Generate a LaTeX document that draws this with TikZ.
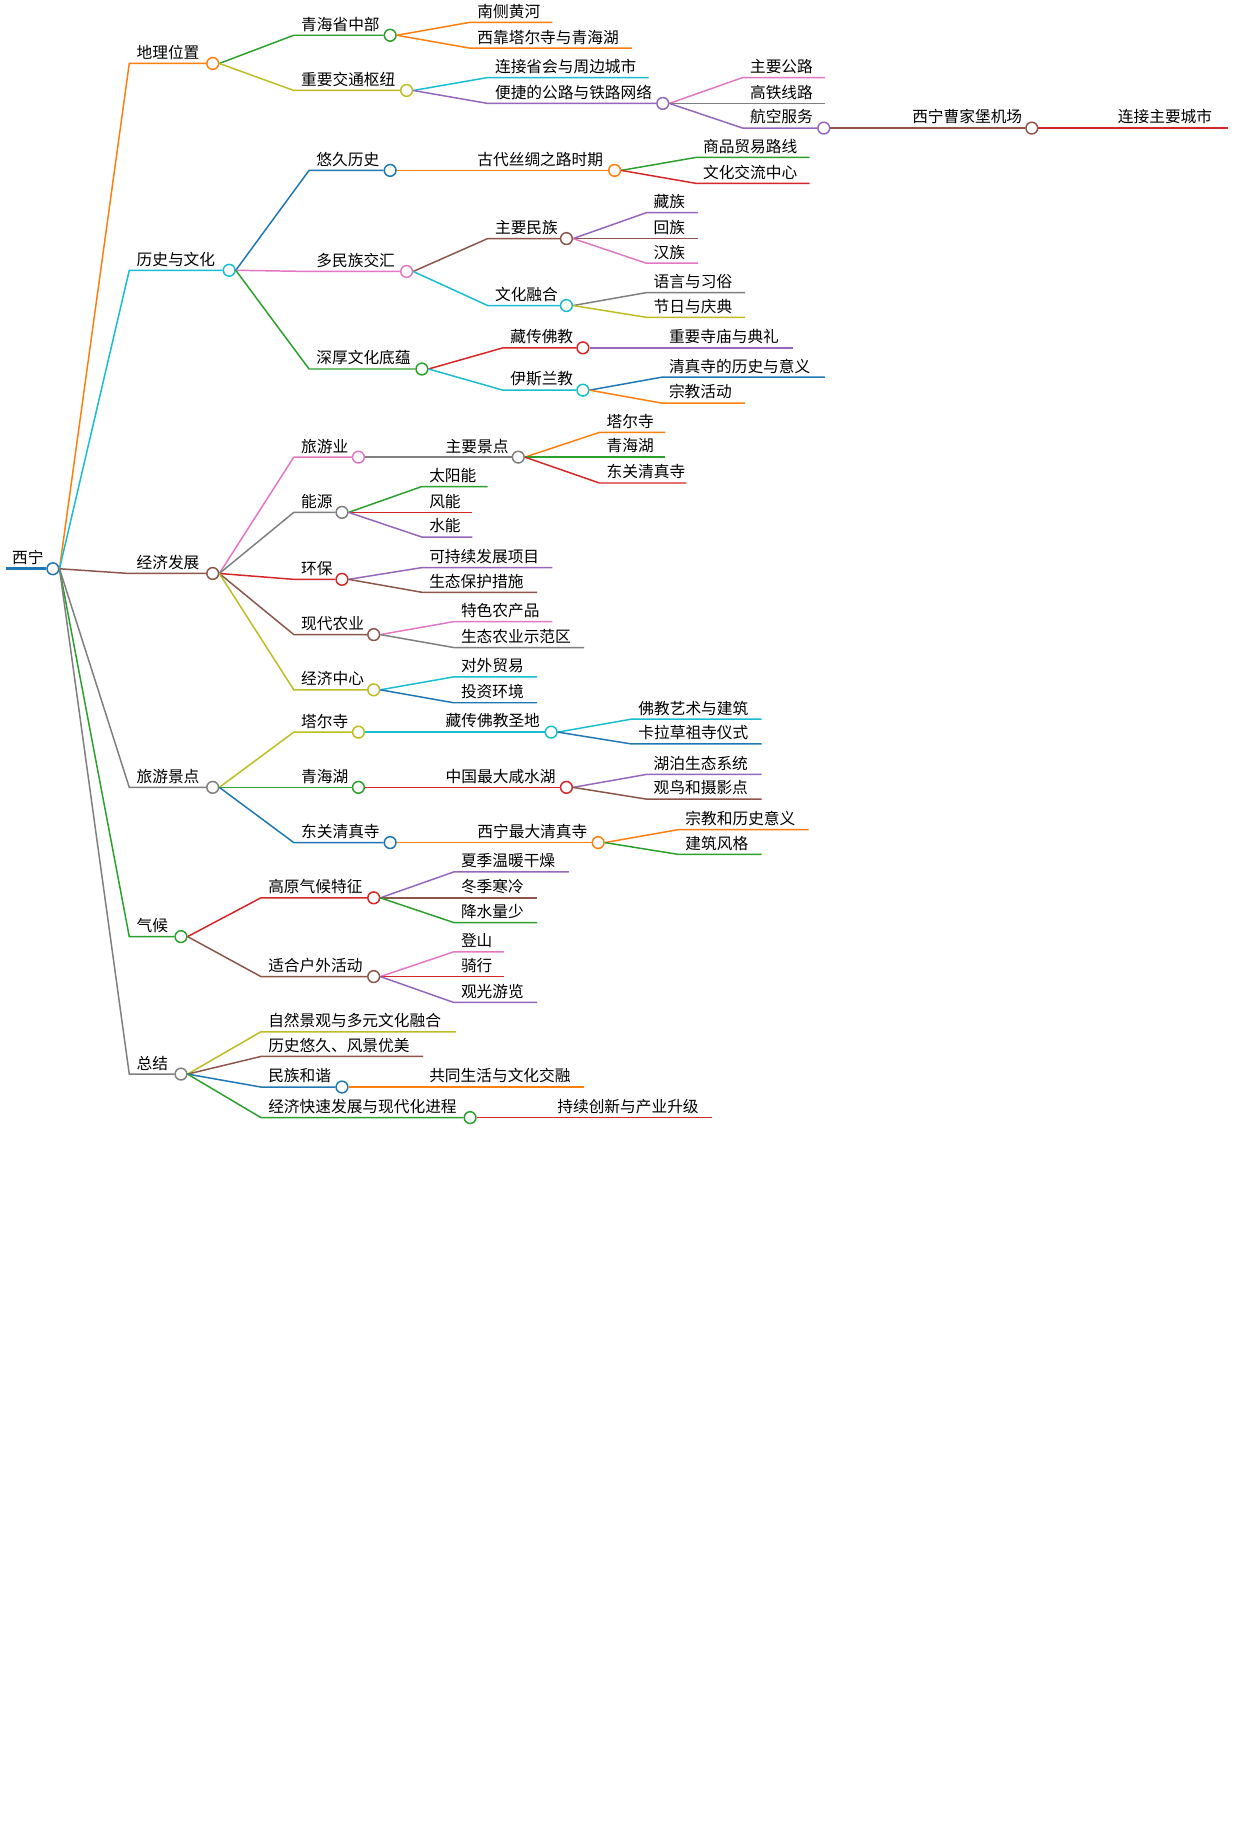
\documentclass[tikz,border=0pt]{standalone}
\usepackage{fontspec}
\setmainfont{Noto Sans CJK SC}
\usetikzlibrary{positioning}
\definecolor{cBlue}{HTML}{1F77B4}
\definecolor{cOrange}{HTML}{FF7F0E}
\definecolor{cGreen}{HTML}{2CA02C}
\definecolor{cRed}{HTML}{D62728}
\definecolor{cPurple}{HTML}{9467BD}
\definecolor{cBrown}{HTML}{8C564B}
\definecolor{cPink}{HTML}{E377C2}
\definecolor{cGray}{HTML}{7F7F7F}
\definecolor{cOlive}{HTML}{BCBD22}
\definecolor{cCyan}{HTML}{17BECF}
\tikzset{
  knob/.style={circle,draw=#1,fill=white,line width=0.9pt,inner sep=0pt,minimum size=0.25cm},
  stem/.style={draw=#1,line width=0.9pt},
  label/.style={anchor=south west,inner sep=0pt,font=\fontsize{9.5}{11}\selectfont}
}
% branch: name, parent, colour, x start, x end, y, text
\newcommand{\mmbranch}[7]{%
  \coordinate (#1-s) at (#4,#6);
  \node[knob=#3] (#1) at (#5,#6) {};
  \draw[stem=#3] (#2.east) .. controls ($(#2.east)!0.5!(#1-s)$ |- #2.east) and ($(#2.east)!0.5!(#1-s)$ |- #1-s) .. (#1-s) -- (#1.west);
  \node[label] at (#4+6,#6-3) {#7};
}
\newcommand{\mmleaf}[7]{%
  \coordinate (#1-s) at (#4,#6);
  \coordinate (#1) at (#5,#6);
  \draw[stem=#3] (#2.east) .. controls ($(#2.east)!0.5!(#1-s)$ |- #2.east) and ($(#2.east)!0.5!(#1-s)$ |- #1-s) .. (#1-s) -- (#1);
  \node[label] at (#4+6,#6-3) {#7};
}
\usetikzlibrary{calc}
\begin{document}
\begin{tikzpicture}[x=0.025cm,y=-0.025cm]
  \useasboundingbox[fill=white] (0,0) rectangle (1050,1570);
  % root
  \node[knob=cBlue] (root) at (45,484) {};
  \draw[cBlue,line width=2pt] (5,484) -- (root.west);
  \node[label] at (10,481) {西宁};

  % geography
  \mmbranch{geo}{root}{cOrange}{110}{181}{54}{地理位置}
  \mmbranch{geoMid}{geo}{cGreen}{250}{332}{30}{青海省中部}
  \mmleaf{geoRiver}{geoMid}{cOrange}{400}{470}{19}{南侧黄河}
  \mmleaf{geoWest}{geoMid}{cOrange}{400}{538}{41}{西靠塔尔寺与青海湖}
  \mmbranch{hub}{geo}{cOlive}{250}{346}{77}{重要交通枢纽}
  \mmleaf{hubLink}{hub}{cCyan}{415}{552}{66}{连接省会与周边城市}
  \mmbranch{net}{hub}{cPurple}{415}{564}{88}{便捷的公路与铁路网络}
  \mmleaf{road}{net}{cPink}{632}{702}{66}{主要公路}
  \mmleaf{rail}{net}{cGray}{632}{702}{88}{高铁线路}
  \mmbranch{air}{net}{cPurple}{632}{701}{109}{航空服务}
  \mmbranch{airport}{air}{cBrown}{770}{878}{109}{西宁曹家堡机场}
  \mmleaf{cities}{airport}{cRed}{945}{1045}{109}{连接主要城市}

  % history and culture
  \mmbranch{hist}{root}{cCyan}{110}{195}{230}{历史与文化}
  \mmbranch{old}{hist}{cBlue}{263}{332}{145}{悠久历史}
  \mmbranch{silk}{old}{cOrange}{400}{523}{145}{古代丝绸之路时期}
  \mmleaf{trade}{silk}{cGreen}{592}{689}{134}{商品贸易路线}
  \mmleaf{exch}{silk}{cRed}{592}{689}{156}{文化交流中心}
  \mmbranch{ethn}{hist}{cPink}{263}{346}{231}{多民族交汇}
  \mmbranch{major}{ethn}{cBrown}{415}{482}{203}{主要民族}
  \mmleaf{tib}{major}{cPurple}{550}{594}{181}{藏族}
  \mmleaf{hui}{major}{cBrown}{550}{594}{203}{回族}
  \mmleaf{han}{major}{cPink}{550}{594}{224}{汉族}
  \mmbranch{fuse}{ethn}{cCyan}{415}{482}{260}{文化融合}
  \mmleaf{lang}{fuse}{cGray}{550}{634}{249}{语言与习俗}
  \mmleaf{fest}{fuse}{cOlive}{550}{634}{270}{节日与庆典}
  \mmbranch{deep}{hist}{cGreen}{263}{359}{314}{深厚文化底蕴}
  \mmbranch{budd}{deep}{cRed}{428}{496}{296}{藏传佛教}
  \mmleaf{temple}{budd}{cPurple}{563}{675}{296}{重要寺庙与典礼}
  \mmbranch{islam}{deep}{cCyan}{428}{496}{332}{伊斯兰教}
  \mmleaf{mosque}{islam}{cBlue}{563}{702}{321}{清真寺的历史与意义}
  \mmleaf{relig}{islam}{cOrange}{563}{634}{343}{宗教活动}

  % economy
  \mmbranch{econ}{root}{cBrown}{110}{181}{488}{经济发展}
  \mmbranch{tour}{econ}{cPink}{250}{305}{389}{旅游业}
  \mmbranch{sights}{tour}{cGray}{373}{441}{389}{主要景点}
  \mmleaf{taer}{sights}{cOrange}{510}{566}{368}{塔尔寺}
  \mmleaf{lake}{sights}{cGreen}{510}{566}{389}{青海湖}
  \mmleaf{dongg}{sights}{cRed}{510}{584}{411}{东关清真寺}
  \mmbranch{energy}{econ}{cGray}{250}{291}{436}{能源}
  \mmleaf{solar}{energy}{cGreen}{359}{415}{414}{太阳能}
  \mmleaf{wind}{energy}{cRed}{359}{402}{436}{风能}
  \mmleaf{water}{energy}{cPurple}{359}{402}{457}{水能}
  \mmbranch{eco}{econ}{cRed}{250}{291}{493}{环保}
  \mmleaf{sust}{eco}{cPurple}{359}{470}{483}{可持续发展项目}
  \mmleaf{protect}{eco}{cBrown}{359}{457}{504}{生态保护措施}
  \mmbranch{agri}{econ}{cBrown}{250}{318}{540}{现代农业}
  \mmleaf{prod}{agri}{cPink}{386}{470}{529}{特色农产品}
  \mmleaf{demo}{agri}{cGray}{386}{497}{551}{生态农业示范区}
  \mmbranch{center}{econ}{cOlive}{250}{318}{587}{经济中心}
  \mmleaf{foreign}{center}{cCyan}{386}{457}{576}{对外贸易}
  \mmleaf{invest}{center}{cBlue}{386}{457}{598}{投资环境}

  % scenic spots
  \mmbranch{spots}{root}{cGray}{110}{181}{670}{旅游景点}
  \mmbranch{sTaer}{spots}{cOlive}{250}{305}{623}{塔尔寺}
  \mmbranch{holy}{sTaer}{cCyan}{373}{469}{623}{藏传佛教圣地}
  \mmleaf{art}{holy}{cCyan}{537}{648}{612}{佛教艺术与建筑}
  \mmleaf{rite}{holy}{cBlue}{537}{648}{633}{卡拉草祖寺仪式}
  \mmbranch{sLake}{spots}{cGreen}{250}{305}{670}{青海湖}
  \mmbranch{salt}{sLake}{cRed}{373}{482}{670}{中国最大咸水湖}
  \mmleaf{lakeEco}{salt}{cPurple}{550}{648}{659}{湖泊生态系统}
  \mmleaf{birds}{salt}{cBrown}{550}{648}{680}{观鸟和摄影点}
  \mmbranch{sMosque}{spots}{cBlue}{250}{332}{717}{东关清真寺}
  \mmbranch{biggest}{sMosque}{cOrange}{400}{509}{717}{西宁最大清真寺}
  \mmleaf{meaning}{biggest}{cOrange}{577}{688}{706}{宗教和历史意义}
  \mmleaf{style}{biggest}{cGreen}{577}{648}{727}{建筑风格}

  % climate
  \mmbranch{clim}{root}{cGreen}{110}{154}{797}{气候}
  \mmbranch{plateau}{clim}{cRed}{222}{318}{764}{高原气候特征}
  \mmleaf{summer}{plateau}{cPurple}{386}{484}{742}{夏季温暖干燥}
  \mmleaf{winter}{plateau}{cBrown}{386}{457}{764}{冬季寒冷}
  \mmleaf{rain}{plateau}{cGreen}{386}{457}{785}{降水量少}
  \mmbranch{outdoor}{clim}{cBrown}{222}{318}{831}{适合户外活动}
  \mmleaf{climb}{outdoor}{cPink}{386}{429}{810}{登山}
  \mmleaf{ride}{outdoor}{cRed}{386}{429}{831}{骑行}
  \mmleaf{view}{outdoor}{cPurple}{386}{457}{853}{观光游览}

  % summary
  \mmbranch{sum}{root}{cGray}{110}{154}{914}{总结}
  \mmleaf{nature}{sum}{cOlive}{222}{388}{878}{自然景观与多元文化融合}
  \mmleaf{long}{sum}{cBrown}{222}{360}{899}{历史悠久、风景优美}
  \mmbranch{harmony}{sum}{cBlue}{222}{291}{925}{民族和谐}
  \mmleaf{together}{harmony}{cOrange}{359}{497}{925}{共同生活与文化交融}
  \mmbranch{growth}{sum}{cGreen}{222}{400}{951}{经济快速发展与现代化进程}
  \mmleaf{innov}{growth}{cRed}{468}{606}{951}{持续创新与产业升级}
\end{tikzpicture}
\end{document}
